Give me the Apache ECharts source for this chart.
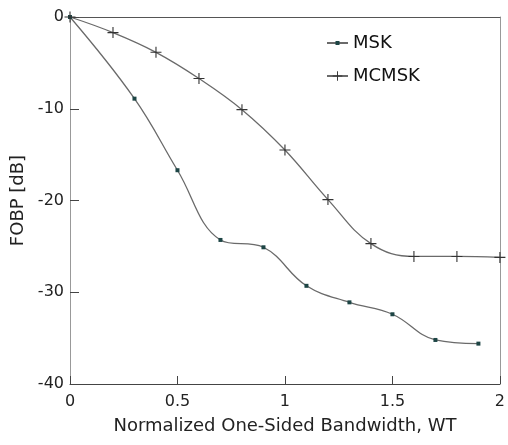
<!DOCTYPE html>
<html>
<head>
<meta charset="utf-8">
<script src="https://cdn.jsdelivr.net/npm/echarts@6/dist/echarts.min.js"></script>
<style>html,body{margin:0;padding:0;background:#fff;}#c{width:508px;height:445px;}</style>
</head>
<body>
<div id="c"></div>
<script>
var mskX = [0, 0.3, 0.5, 0.7, 0.9, 1.1, 1.3, 1.5, 1.7, 1.9];
var mskY = [0, -8.9, -16.7, -24.3, -25.1, -29.3, -31.1, -32.4, -35.2, -35.6];
var mcmskX = [0, 0.2, 0.4, 0.6, 0.8, 1.0, 1.2, 1.4, 1.6, 1.8, 2.0];
var mcmskY = [0, -1.7, -3.85, -6.7, -10.1, -14.5, -19.9, -24.7, -26.1, -26.1, -26.2];
var xTicks = [0, 0.5, 1, 1.5, 2];
var yTicks = [0, -10, -20, -30, -40];

function pairs(xs, ys){ return xs.map(function(x,i){ return [x, ys[i]]; }); }
var plus = 'path://M4.5,0H5.5V4.5H10V5.5H5.5V10H4.5V5.5H0V4.5H4.5Z';
var font = 'DejaVu Sans';
var chart = echarts.init(document.getElementById('c'), null, {renderer:'canvas'});
var legendText = {fontFamily: font, fontSize: 18, color: '#111'};
chart.setOption({
  animation: false,
  backgroundColor: '#fff',
  grid: {left: 70, top: 17, right: 6, bottom: 61},
  legend: [
    {orient: 'vertical', left: 321, top: 29, itemWidth: 21, itemHeight: 5, itemGap: 4,
     textStyle: legendText, data: ['MSK']},
    {orient: 'vertical', left: 321, top: 62, itemWidth: 21, itemHeight: 12, itemGap: 4,
     textStyle: legendText, data: ['MCMSK']}
  ],
  xAxis: [{
    type: 'value', min: 0, max: 2, interval: 0.5,
    name: 'Normalized One-Sided Bandwidth, WT', nameLocation: 'middle', nameGap: 33,
    nameTextStyle: {fontFamily: font, fontSize: 18, color: '#222'},
    axisLine: {onZero: false, lineStyle: {color: '#444', width: 1}},
    axisTick: {inside: true, length: 8, lineStyle: {color: '#444'}},
    axisLabel: {fontFamily: font, fontSize: 16, color: '#222', margin: 10,
      formatter: function(v){ return xTicks.indexOf(v) >= 0 ? String(v) : ''; }},
    splitLine: {show: false}
  }, {
    type: 'value', position: 'top', min: 0, max: 2, interval: 0.5,
    axisLine: {show: true, onZero: false, lineStyle: {color: '#555'}},
    axisTick: {show: false}, axisLabel: {show: false}, splitLine: {show: false}
  }],
  yAxis: [{
    type: 'value', min: -40, max: 0, interval: 10,
    name: 'FOBP [dB]', nameLocation: 'middle', nameGap: 40,
    nameTextStyle: {fontFamily: font, fontSize: 18, color: '#222'},
    axisLine: {onZero: false, lineStyle: {color: '#999', width: 1}},
    axisTick: {inside: true, length: 9, lineStyle: {color: '#444'}},
    axisLabel: {fontFamily: font, fontSize: 16, color: '#222', margin: 6,
      formatter: function(v){ return yTicks.indexOf(v) >= 0 ? String(v) : ''; }},
    splitLine: {show: false}
  }, {
    type: 'value', position: 'right', min: -40, max: 0, interval: 10,
    axisLine: {show: true, onZero: false, lineStyle: {color: '#999'}},
    axisTick: {show: false}, axisLabel: {show: false}, splitLine: {show: false}
  }],
  series: [
    {
      name: 'MSK', type: 'line', data: pairs(mskX, mskY), smooth: 0.4,
      symbol: 'rect', symbolSize: 4, showSymbol: true,
      lineStyle: {color: '#6a6a6a', width: 1.3},
      itemStyle: {color: '#1d4545', borderWidth: 0}
    },
    {
      name: 'MCMSK', type: 'line', data: pairs(mcmskX, mcmskY), smooth: 0.4,
      symbol: plus, symbolSize: 11, showSymbol: true,
      lineStyle: {color: '#6a6a6a', width: 1.3},
      itemStyle: {color: '#333', borderWidth: 0}
    }
  ]
});
</script>
</body>
</html>
